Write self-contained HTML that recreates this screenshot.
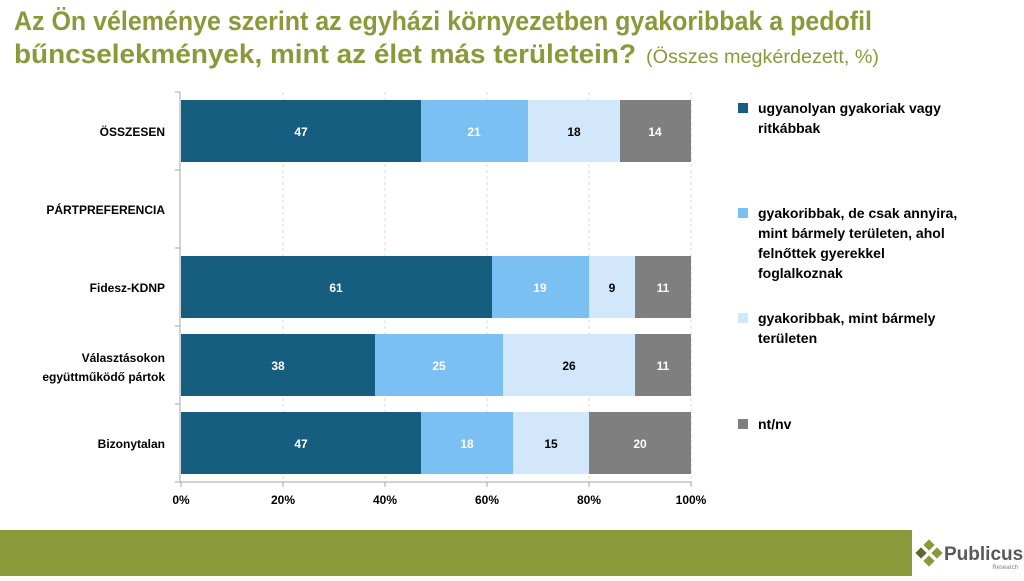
<!DOCTYPE html>
<html><head><meta charset="utf-8"><style>
body{margin:0;width:1024px;height:576px;overflow:hidden;background:#fff;font-family:"Liberation Sans",sans-serif}
</style></head><body>
<svg width="1024" height="576" xmlns="http://www.w3.org/2000/svg" font-family="Liberation Sans, sans-serif">
<text x="14" y="30" font-size="27" font-weight="bold" fill="#8a9a3a" textLength="858" lengthAdjust="spacingAndGlyphs">Az Ön véleménye szerint az egyházi környezetben gyakoribbak a pedofil</text>
<text x="14" y="63" font-size="27" font-weight="bold" fill="#8a9a3a" textLength="622" lengthAdjust="spacingAndGlyphs">bűncselekmények, mint az élet más területein?</text>
<text x="646" y="63" font-size="19" fill="#8a9a3a" textLength="233" lengthAdjust="spacingAndGlyphs">(Összes megkérdezett, %)</text>
<g stroke="#d9d9d9" stroke-dasharray="3,3">
<line x1="283" y1="92" x2="283" y2="482"/><line x1="385" y1="92" x2="385" y2="482"/><line x1="487" y1="92" x2="487" y2="482"/><line x1="589" y1="92" x2="589" y2="482"/><line x1="691" y1="92" x2="691" y2="482"/>
</g>
<g font-size="12" font-weight="bold" text-anchor="middle">
<rect x="181" y="100" width="240" height="62" fill="#165e80"/><rect x="421" y="100" width="107" height="62" fill="#7bc0f2"/><rect x="528" y="100" width="92" height="62" fill="#d2e8fa"/><rect x="620" y="100" width="71" height="62" fill="#7f7f7f"/>
<text x="301" y="136" fill="#fff">47</text><text x="474" y="136" fill="#fff">21</text><text x="574" y="136" fill="#000">18</text><text x="655" y="136" fill="#fff">14</text>
<rect x="181" y="256" width="311" height="62" fill="#165e80"/><rect x="492" y="256" width="97" height="62" fill="#7bc0f2"/><rect x="589" y="256" width="46" height="62" fill="#d2e8fa"/><rect x="635" y="256" width="56" height="62" fill="#7f7f7f"/>
<text x="336" y="292" fill="#fff">61</text><text x="540" y="292" fill="#fff">19</text><text x="612" y="292" fill="#000">9</text><text x="663" y="292" fill="#fff">11</text>
<rect x="181" y="334" width="194" height="62" fill="#165e80"/><rect x="375" y="334" width="128" height="62" fill="#7bc0f2"/><rect x="503" y="334" width="132" height="62" fill="#d2e8fa"/><rect x="635" y="334" width="56" height="62" fill="#7f7f7f"/>
<text x="278" y="370" fill="#fff">38</text><text x="439" y="370" fill="#fff">25</text><text x="569" y="370" fill="#000">26</text><text x="663" y="370" fill="#fff">11</text>
<rect x="181" y="412" width="240" height="62" fill="#165e80"/><rect x="421" y="412" width="92" height="62" fill="#7bc0f2"/><rect x="513" y="412" width="76" height="62" fill="#d2e8fa"/><rect x="589" y="412" width="102" height="62" fill="#7f7f7f"/>
<text x="301" y="448" fill="#fff">47</text><text x="467" y="448" fill="#fff">18</text><text x="551" y="448" fill="#000">15</text><text x="640" y="448" fill="#fff">20</text>
</g>
<g stroke="#a6a6a6" fill="none">
<line x1="180" y1="92" x2="180" y2="482"/><line x1="180" y1="482" x2="692" y2="482"/>
<line x1="175" y1="92" x2="180" y2="92"/><line x1="175" y1="170" x2="180" y2="170"/><line x1="175" y1="248" x2="180" y2="248"/><line x1="175" y1="326" x2="180" y2="326"/><line x1="175" y1="404" x2="180" y2="404"/><line x1="175" y1="482" x2="180" y2="482"/>
<line x1="181" y1="482" x2="181" y2="487"/><line x1="283" y1="482" x2="283" y2="487"/><line x1="385" y1="482" x2="385" y2="487"/><line x1="487" y1="482" x2="487" y2="487"/><line x1="589" y1="482" x2="589" y2="487"/><line x1="691" y1="482" x2="691" y2="487"/>
</g>
<g font-size="12" font-weight="bold" text-anchor="middle" fill="#000">
<text x="181" y="504">0%</text><text x="283" y="504">20%</text><text x="385" y="504">40%</text><text x="487" y="504">60%</text><text x="589" y="504">80%</text><text x="691" y="504">100%</text>
</g>
<g font-size="12" font-weight="bold" text-anchor="end" fill="#000">
<text x="165" y="136">ÖSSZESEN</text><text x="165" y="214">PÁRTPREFERENCIA</text><text x="165" y="292">Fidesz-KDNP</text>
<text x="165" y="362">Választásokon</text><text x="165" y="381">együttműködő pártok</text><text x="165" y="448">Bizonytalan</text>
</g>
<g font-size="14" font-weight="bold" fill="#000">
<rect x="738" y="103" width="10" height="10" fill="#165e80"/><text x="758" y="113">ugyanolyan gyakoriak vagy</text><text x="758" y="133">ritkábbak</text>
<rect x="738" y="208" width="10" height="10" fill="#7bc0f2"/><text x="758" y="218">gyakoribbak, de csak annyira,</text><text x="758" y="238">mint bármely területen, ahol</text><text x="758" y="258">felnőttek gyerekkel</text><text x="758" y="278">foglalkoznak</text>
<rect x="738" y="313" width="10" height="10" fill="#d2e8fa"/><text x="758" y="323">gyakoribbak, mint bármely</text><text x="758" y="343">területen</text>
<rect x="738" y="419" width="10" height="10" fill="#7f7f7f"/><text x="758" y="429">nt/nv</text>
</g>
<rect x="0" y="530" width="912" height="46" fill="#8a9a3a"/>
<g fill="#8a9a3a"><rect x="925" y="541" width="8" height="8" transform="rotate(45 929 545)"/><rect x="933" y="549" width="8" height="8" transform="rotate(45 937 553)"/><rect x="925" y="557" width="8" height="8" transform="rotate(45 929 561)"/><rect x="917" y="549" width="8" height="8" transform="rotate(45 921 553)" fill="#5a6a2a"/></g>
<text x="944" y="560" font-size="19" font-weight="bold" fill="#595959">Publicus</text>
<text x="1018" y="569" font-size="6" text-anchor="end" fill="#7f7f7f">Research</text>
</svg>
</body></html>
